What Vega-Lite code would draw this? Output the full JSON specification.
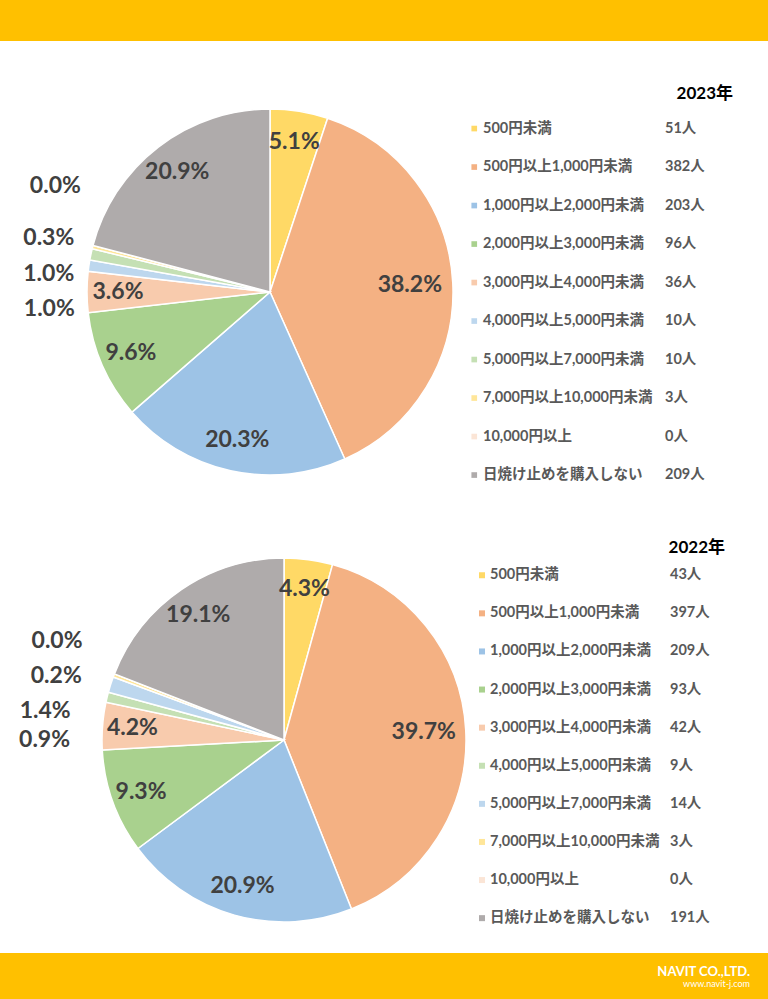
{
  "$schema": "https://vega.github.io/schema/vega-lite/v6.json",
  "padding": 0,
  "spacing": 0,
  "bounds": "flush",
  "background": "#ffffff",
  "resolve": {
    "scale": {"color": "independent", "stroke": "independent", "theta": "independent"},
    "legend": {"color": "independent", "stroke": "independent"}
  },
  "config": {
    "view": {"stroke": null},
    "font": "Lato, Noto Sans CJK JP",
    "legend": {"labelFont": "Lato, Noto Sans CJK JP", "labelFontSize": 14.5, "labelFontWeight": "bold", "labelColor": "#595959", "labelLimit": 300, "padding": 0}
  },
  "datasets": {
    "bar": [{"k": 1}],
    "y2023": [
      {"order": 1, "cat": "500円未満", "count": 51, "pct": "5.1%", "cnt": "51人"},
      {"order": 2, "cat": "500円以上1,000円未満", "count": 382, "pct": "38.2%", "cnt": "382人"},
      {"order": 3, "cat": "1,000円以上2,000円未満", "count": 203, "pct": "20.3%", "cnt": "203人"},
      {"order": 4, "cat": "2,000円以上3,000円未満", "count": 96, "pct": "9.6%", "cnt": "96人"},
      {"order": 5, "cat": "3,000円以上4,000円未満", "count": 36, "pct": "3.6%", "cnt": "36人"},
      {"order": 6, "cat": "4,000円以上5,000円未満", "count": 10, "pct": "1.0%", "cnt": "10人"},
      {"order": 7, "cat": "5,000円以上7,000円未満", "count": 10, "pct": "1.0%", "cnt": "10人"},
      {"order": 8, "cat": "7,000円以上10,000円未満", "count": 3, "pct": "0.3%", "cnt": "3人"},
      {"order": 9, "cat": "10,000円以上", "count": 0, "pct": "0.0%", "cnt": "0人"},
      {"order": 10, "cat": "日焼け止めを購入しない", "count": 209, "pct": "20.9%", "cnt": "209人"}
    ],
    "y2022": [
      {"order": 1, "cat": "500円未満", "count": 43, "pct": "4.3%", "cnt": "43人"},
      {"order": 2, "cat": "500円以上1,000円未満", "count": 397, "pct": "39.7%", "cnt": "397人"},
      {"order": 3, "cat": "1,000円以上2,000円未満", "count": 209, "pct": "20.9%", "cnt": "209人"},
      {"order": 4, "cat": "2,000円以上3,000円未満", "count": 93, "pct": "9.3%", "cnt": "93人"},
      {"order": 5, "cat": "3,000円以上4,000円未満", "count": 42, "pct": "4.2%", "cnt": "42人"},
      {"order": 6, "cat": "4,000円以上5,000円未満", "count": 9, "pct": "0.9%", "cnt": "9人"},
      {"order": 7, "cat": "5,000円以上7,000円未満", "count": 14, "pct": "1.4%", "cnt": "14人"},
      {"order": 8, "cat": "7,000円以上10,000円未満", "count": 3, "pct": "0.2%", "cnt": "3人"},
      {"order": 9, "cat": "10,000円以上", "count": 0, "pct": "0.0%", "cnt": "0人"},
      {"order": 10, "cat": "日焼け止めを購入しない", "count": 191, "pct": "19.1%", "cnt": "191人"}
    ]
  },
  "vconcat": [
    {
      "width": 768, "height": 41,
      "data": {"name": "bar"},
      "view": {"fill": "#FFC000", "stroke": null},
      "mark": {"type": "rect", "color": "#FFC000"},
      "encoding": {}
    },
    {
      "width": 540, "height": 502,
      "data": {"name": "y2023"},
      "title": {"text": "2023年", "anchor": "end", "frame": "group", "dx": 193, "offset": -90, "fontSize": 17, "fontWeight": "bold", "color": "#000000", "font": "Lato, Noto Sans CJK JP"},
      "encoding": {
        "theta": {"field": "count", "type": "quantitative", "stack": true},
        "order": {"field": "order", "type": "quantitative"}
      },
      "layer": [
        {
          "mark": {"type": "arc", "outerRadius": 183, "strokeWidth": 1.5},
          "encoding": {
            "color": {"field": "cat", "type": "nominal", "sort": {"field": "order"},
              "scale": {"range": ["#FFD966", "#F4B183", "#9DC3E6", "#A9D18E", "#F8CBAD", "#BDD7EE", "#C5E0B4", "#FFE699", "#FBE5D6", "#AFABAB"]},
              "legend": {"title": null, "orient": "none", "legendX": 467, "legendY": 80.3, "symbolType": "square", "symbolSize": 32, "symbolStrokeWidth": 0, "labelOffset": 1.5, "rowPadding": 23.5}},
            "stroke": {"field": "order", "type": "ordinal", "scale": {"range": ["#ffffff"]},
              "legend": {"title": null, "orient": "none", "legendX": 650.5, "legendY": 80.3, "symbolSize": 1, "symbolOpacity": 0, "symbolStrokeWidth": 0, "labelOffset": 0, "rowPadding": 23.5, "labelExpr": "data('y2023')[datum.index].cnt"}}
          }
        },
        {
          "mark": {"type": "text", "radius": 152, "font": "Lato", "fontSize": 23, "fontWeight": "bold", "color": "#404040"},
          "encoding": {"detail": {"field": "cat"}, "text": {"condition": {"test": "datum.count >= 30 && datum.count < 300", "field": "pct"}, "value": ""}}
        },
        {
          "mark": {"type": "text", "radius": 140, "font": "Lato", "fontSize": 23, "fontWeight": "bold", "color": "#404040"},
          "encoding": {"detail": {"field": "cat"}, "text": {"condition": {"test": "datum.count >= 300", "field": "pct"}, "value": ""}}
        },
        {
          "mark": {"type": "text", "radius": 222, "dx": -1, "dy": 49, "font": "Lato", "fontSize": 23, "fontWeight": "bold", "color": "#404040"},
          "encoding": {"detail": {"field": "cat"}, "text": {"condition": {"test": "datum.order == 6", "field": "pct"}, "value": ""}}
        },
        {
          "mark": {"type": "text", "radius": 222, "dx": -4, "dy": 28, "font": "Lato", "fontSize": 23, "fontWeight": "bold", "color": "#404040"},
          "encoding": {"detail": {"field": "cat"}, "text": {"condition": {"test": "datum.order == 7", "field": "pct"}, "value": ""}}
        },
        {
          "mark": {"type": "text", "radius": 222, "dx": -6, "dy": 1, "font": "Lato", "fontSize": 23, "fontWeight": "bold", "color": "#404040"},
          "encoding": {"detail": {"field": "cat"}, "text": {"condition": {"test": "datum.order == 8", "field": "pct"}, "value": ""}}
        },
        {
          "mark": {"type": "text", "radius": 222, "dx": 0, "dy": -49, "font": "Lato", "fontSize": 23, "fontWeight": "bold", "color": "#404040"},
          "encoding": {"detail": {"field": "cat"}, "text": {"condition": {"test": "datum.order == 9", "field": "pct"}, "value": ""}}
        }
      ]
    },
    {
      "width": 568, "height": 394,
      "data": {"name": "y2022"},
      "title": {"text": "2022年", "anchor": "end", "frame": "group", "dx": 157, "offset": -75, "fontSize": 17, "fontWeight": "bold", "color": "#000000", "font": "Lato, Noto Sans CJK JP"},
      "encoding": {
        "theta": {"field": "count", "type": "quantitative", "stack": true},
        "order": {"field": "order", "type": "quantitative"}
      },
      "layer": [
        {
          "mark": {"type": "arc", "outerRadius": 182, "strokeWidth": 1.5},
          "encoding": {
            "color": {"field": "cat", "type": "nominal", "sort": {"field": "order"},
              "scale": {"range": ["#FFD966", "#F4B183", "#9DC3E6", "#A9D18E", "#F8CBAD", "#C5E0B4", "#BDD7EE", "#FFE699", "#FBE5D6", "#AFABAB"]},
              "legend": {"title": null, "orient": "none", "legendX": 474.75, "legendY": 25, "symbolType": "square", "symbolSize": 36, "symbolStrokeWidth": 0, "labelOffset": 0.75, "rowPadding": 23.1}},
            "stroke": {"field": "order", "type": "ordinal", "scale": {"range": ["#ffffff"]},
              "legend": {"title": null, "orient": "none", "legendX": 655.5, "legendY": 25, "symbolSize": 1, "symbolOpacity": 0, "symbolStrokeWidth": 0, "labelOffset": 0, "rowPadding": 23.1, "labelExpr": "data('y2022')[datum.index].cnt"}}
          }
        },
        {
          "mark": {"type": "text", "radius": 152, "font": "Lato", "fontSize": 23, "fontWeight": "bold", "color": "#404040"},
          "encoding": {"detail": {"field": "cat"}, "text": {"condition": {"test": "datum.count >= 30 && datum.count < 300", "field": "pct"}, "value": ""}}
        },
        {
          "mark": {"type": "text", "radius": 140, "font": "Lato", "fontSize": 23, "fontWeight": "bold", "color": "#404040"},
          "encoding": {"detail": {"field": "cat"}, "text": {"condition": {"test": "datum.count >= 300", "field": "pct"}, "value": ""}}
        },
        {
          "mark": {"type": "text", "radius": 235, "dx": -11, "dy": 55, "font": "Lato", "fontSize": 23, "fontWeight": "bold", "color": "#404040"},
          "encoding": {"detail": {"field": "cat"}, "text": {"condition": {"test": "datum.order == 6", "field": "pct"}, "value": ""}}
        },
        {
          "mark": {"type": "text", "radius": 235, "dx": -15, "dy": 42, "font": "Lato", "fontSize": 23, "fontWeight": "bold", "color": "#404040"},
          "encoding": {"detail": {"field": "cat"}, "text": {"condition": {"test": "datum.order == 7", "field": "pct"}, "value": ""}}
        },
        {
          "mark": {"type": "text", "radius": 235, "dx": -8, "dy": 19, "font": "Lato", "fontSize": 23, "fontWeight": "bold", "color": "#404040"},
          "encoding": {"detail": {"field": "cat"}, "text": {"condition": {"test": "datum.order == 8", "field": "pct"}, "value": ""}}
        },
        {
          "mark": {"type": "text", "radius": 235, "dx": -8, "dy": -14, "font": "Lato", "fontSize": 23, "fontWeight": "bold", "color": "#404040"},
          "encoding": {"detail": {"field": "cat"}, "text": {"condition": {"test": "datum.order == 9", "field": "pct"}, "value": ""}}
        }
      ]
    },
    {
      "width": 768, "height": 16,
      "data": {"name": "bar"},
      "mark": {"type": "text"},
      "encoding": {"text": {"value": ""}}
    },
    {
      "width": 768, "height": 46,
      "data": {"name": "bar"},
      "view": {"fill": "#FFC000", "stroke": null},
      "title": {"text": "NAVIT CO.,LTD.", "subtitle": "www.navit-j.com", "anchor": "end", "dx": -18, "offset": -36, "fontSize": 13, "fontWeight": "bold", "color": "#ffffff", "subtitleColor": "#ffffff", "subtitleFontSize": 9, "subtitlePadding": 1, "font": "Lato"},
      "mark": {"type": "rect", "color": "#FFC000"},
      "encoding": {}
    }
  ]
}
